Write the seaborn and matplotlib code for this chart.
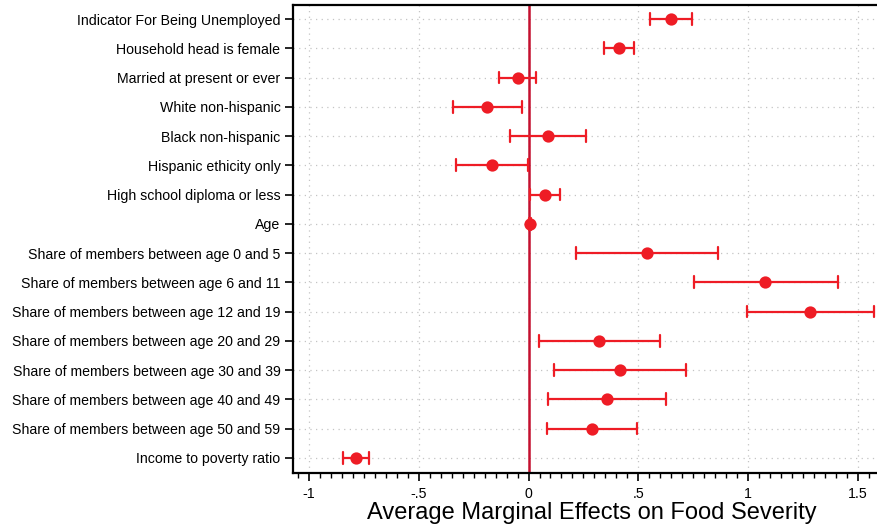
import matplotlib
matplotlib.use("Agg")
import matplotlib.pyplot as plt
import seaborn as sns
import pandas as pd
import numpy as np
from matplotlib.ticker import MultipleLocator, FuncFormatter

labels = [
    "Indicator For Being Unemployed",
    "Household head is female",
    "Married at present or ever",
    "White non-hispanic",
    "Black non-hispanic",
    "Hispanic ethicity only",
    "High school diploma or less",
    "Age",
    "Share of members between age 0 and 5",
    "Share of members between age 6 and 11",
    "Share of members between age 12 and 19",
    "Share of members between age 20 and 29",
    "Share of members between age 30 and 39",
    "Share of members between age 40 and 49",
    "Share of members between age 50 and 59",
    "Income to poverty ratio",
]
estimate = [0.647, 0.413, -0.050, -0.188, 0.087, -0.168, 0.075, 0.007,
            0.540, 1.079, 1.282, 0.321, 0.415, 0.357, 0.288, -0.786]
ci_low = [0.553, 0.345, -0.133, -0.343, -0.084, -0.332, 0.007, 0.003,
          0.217, 0.753, 0.996, 0.046, 0.116, 0.089, 0.085, -0.846]
ci_high = [0.745, 0.480, 0.034, -0.032, 0.261, -0.004, 0.145, 0.011,
           0.864, 1.409, 1.573, 0.600, 0.716, 0.627, 0.492, -0.725]

df = pd.DataFrame({
    "label": labels * 3,
    "value": ci_low + estimate + ci_high,
})

sns.set_theme(style="white")
plt.rcParams["font.family"] = ["Liberation Sans", "DejaVu Sans"]
plt.rcParams["text.color"] = "black"
plt.rcParams["axes.labelcolor"] = "black"

fig = plt.figure(figsize=(8.78, 5.27), dpi=100)
ax = fig.add_axes([293 / 878, 1 - 473 / 527, 1 - 293 / 878, (473 - 5) / 527])

ax.axvline(0, color="#c4102f", lw=1.8, zorder=1)

sns.pointplot(data=df, x="value", y="label", order=labels,
              estimator="median", errorbar=("pi", 100),
              linestyle="none", color="#ee1c25", markers="o",
              markersize=6.8, err_kws={"linewidth": 1.6}, capsize=0.4,
              ax=ax, zorder=3)

ax.set_xlim(-1.073, 1.592)
ax.set_ylim(len(labels) - 0.5 + 0.02, -0.48)
ax.xaxis.set_major_locator(MultipleLocator(0.5))
ax.xaxis.set_minor_locator(MultipleLocator(0.05))

def fmt(v, pos):
    if abs(v) < 1e-9:
        return "0"
    s = f"{v:g}"
    return s.replace("0.", ".") if abs(v) < 1 else s
ax.xaxis.set_major_formatter(FuncFormatter(fmt))

ax.grid(True, which="major", axis="both", color="#c4c4c4", linestyle=(0, (1, 3.5)), lw=0.9)
ax.set_axisbelow(True)

ax.spines["right"].set_visible(False)
for s in ["left", "bottom", "top"]:
    ax.spines[s].set_color("black")
    ax.spines[s].set_linewidth(1.6)

ax.tick_params(axis="x", which="major", direction="out", length=6, width=1.2,
               labelsize=10.2, colors="black", bottom=True, pad=4)
ax.tick_params(axis="x", which="minor", direction="out", length=3.5, width=1.0,
               bottom=True, colors="black")
ax.tick_params(axis="y", which="major", direction="out", length=6, width=1.2,
               labelsize=10.2, colors="black", left=True, pad=3)

ax.set_ylabel("")
ax.set_xlabel("Average Marginal Effects on Food Severity", fontsize=17,
              labelpad=0, color="black")
ax.xaxis.set_label_coords(0.5 + 6 / 585, -0.061, transform=ax.transAxes)
ax.xaxis.label.set_va("top")

fig.savefig("out.png", dpi=100)
